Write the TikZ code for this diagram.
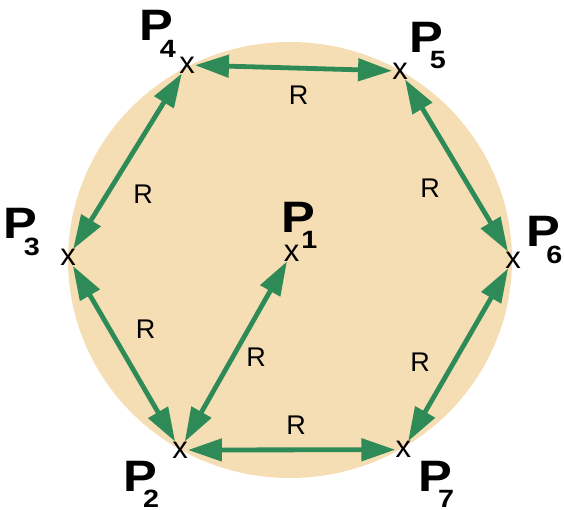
\documentclass[tikz,border=0pt]{standalone}
\usepackage{fontspec}
\usepackage{graphicx}
\setmainfont{Liberation Sans}
\usetikzlibrary{arrows.meta}
\definecolor{disc}{RGB}{245,222,179}
\definecolor{sg}{RGB}{46,139,87}
\newcommand{\plab}[1]{\scalebox{1.15}[1]{P\kern-12pt\raisebox{-16.5pt}{\fontsize{25}{25}\selectfont #1}}}
\begin{document}
\begin{tikzpicture}[x=1pt,y=-1pt,
  mk/.style={inner sep=0pt, font=\fontsize{31}{31}\selectfont},
  plbl/.style={inner sep=0pt, anchor=base west, font=\fontsize{44}{44}\selectfont\bfseries},
  rl/.style={inner sep=0pt, font=\fontsize{27}{27}\selectfont},
  conn/.style={draw=sg, line width=4.8pt, {Triangle[length=34pt,width=22pt]}-{Triangle[length=34pt,width=22pt]}}]
\useasboundingbox (0,0) rectangle (564,510);
\fill[disc] (290,260) ellipse [x radius=222, y radius=218];
% markers
\node[mk] (m1) at (291.7,253) {x};
\node[mk] (m2) at (180,450) {x};
\node[mk] (m3) at (68,257.5) {x};
\node[mk] (m4) at (187,65) {x};
\node[mk] (m5) at (400,71) {x};
\node[mk] (m6) at (513,260) {x};
\node[mk] (m7) at (403.3,449.7) {x};
% connectors
\draw[conn] (m4) -- (m5);
\draw[conn] (m5) -- (m6);
\draw[conn] (m6) -- (m7);
\draw[conn] (m7) -- (m2);
\draw[conn] (m2) -- (m3);
\draw[conn] (m3) -- (m4);
\draw[conn] (m1) -- (m2);
% R labels
\node[rl] (r45) at (298.5,95) {R};
\node[rl] (r34) at (143,194) {R};
\node[rl] (r56) at (430,188) {R};
\node[rl] (r23) at (145.5,329) {R};
\node[rl] (r12) at (256,357) {R};
\node[rl] (r67) at (420,362) {R};
\node[rl] (r27) at (296,425) {R};
% point labels
\node[plbl] (l1) at (281.3,232.3) {\plab{1}};
\node[plbl] (l2) at (123,491.2) {\plab{2}};
\node[plbl] (l3) at (3.6,239) {\plab{3}};
\node[plbl] (l4) at (139.6,41) {\plab{4}};
\node[plbl] (l5) at (409.6,52.3) {\plab{5}};
\node[plbl] (l6) at (526.3,246.7) {\plab{6}};
\node[plbl] (l7) at (418,491.2) {\plab{7}};
\end{tikzpicture}
\end{document}
